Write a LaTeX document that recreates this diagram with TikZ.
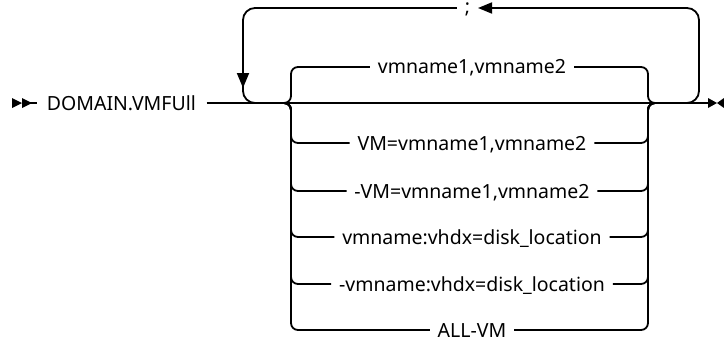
\documentclass[tikz,border=0pt]{standalone}
\usepackage{fontspec}
\setmainfont{Noto Sans}
\usetikzlibrary{arrows.meta}

\tikzset{
	lbl/.style={font=\fontsize{19.5}{22}\selectfont,inner xsep=7pt,inner ysep=0pt,text height=18pt,text depth=4pt},
	semilbl/.style={lbl,text height=14pt,text depth=4pt},
	rr/.style={rounded corners=7pt},
	rrloop/.style={rounded corners=12pt},
	tipdown/.style={-{Triangle[length=15pt,width=12pt]}},
	tipleft/.style={-{Triangle[length=14pt,width=11pt]}}
}

\begin{document}
\begin{tikzpicture}[x=1pt,y=-1pt,line width=1.8pt]
			\useasboundingbox (0,0) rectangle (724,340);
			% start of the statement
			\fill (12,98) -- (22,103) -- (12,108) -- cycle;
			\fill (22,98) -- (32,103) -- (22,108) -- cycle;
			\draw (22,103) -- (37,103);
			\node[lbl,anchor=west,inner xsep=0pt] (dom) at (46,103) {DOMAIN.VMFUll};
			\coordinate (jl) at (291,103);
			\coordinate (jr) at (648,103);
			\coordinate (fin) at (708,103);
			\draw ([xshift=10pt]dom.east) -- (fin);
			% choices
			\foreach \y/\t/\n in {67/{vmname1,vmname2}/b0,143/{VM=vmname1,vmname2}/b1,
				191/{-VM=vmname1,vmname2}/b2,237/{vmname:vhdx=disk\_location}/b3,
				284/{-vmname:vhdx=disk\_location}/b4,330/{ALL-VM}/b5}{
				\node[lbl] (\n) at (472,\y) {\t};
				\draw[rr] ([xshift=-12pt]jl) -| (jl |- \n.west) -- (\n.west);
				\draw[rr] (\n.east) -| (jr) -- ([xshift=12pt]jr);
			}
			% repeat loop
			\node[semilbl] (semi) at (467.5,8) {;};
			\coordinate (lpl) at (243,103);
			\coordinate (lpr) at (699,103);
			\draw[rrloop,tipdown] (semi.west) -| (243,88);
			\draw[rrloop] (243,86) |- ([xshift=15pt]lpl);
			\draw[rrloop,tipleft] ([xshift=-13pt]lpr) -| (lpr |- semi.east) -- (semi.east);
			% end of the statement
			\fill (708,98) -- (717,103) -- (708,108) -- cycle;
			\fill (724,98) -- (717,103) -- (724,108) -- cycle;
			\end{tikzpicture}
\end{document}
